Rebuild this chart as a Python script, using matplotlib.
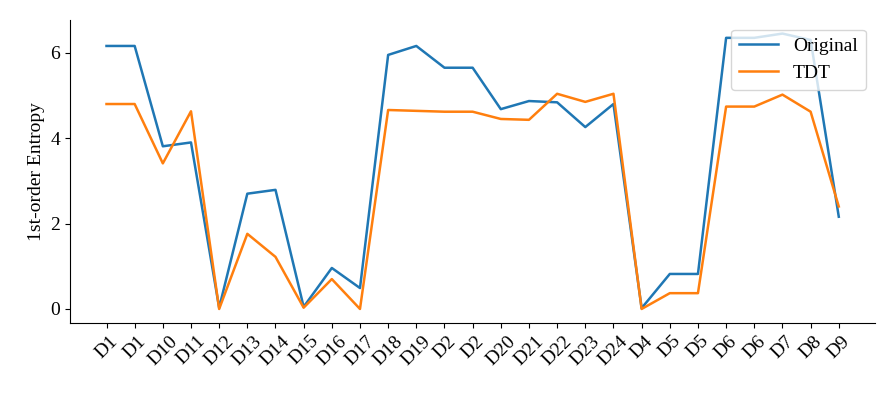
import matplotlib
matplotlib.use('Agg')
import matplotlib.pyplot as plt
from matplotlib.ticker import MultipleLocator

plt.rcParams['font.family'] = ['Liberation Serif', 'DejaVu Serif']
plt.rcParams['font.size'] = 14

labels = ['D1', 'D1', 'D10', 'D11', 'D12', 'D13', 'D14', 'D15', 'D16', 'D17',
          'D18', 'D19', 'D2', 'D2', 'D20', 'D21', 'D22', 'D23', 'D24', 'D4',
          'D5', 'D5', 'D6', 'D6', 'D7', 'D8', 'D9']
original = [6.16, 6.16, 3.81, 3.90, 0.03, 2.70, 2.79, 0.05, 0.96, 0.49,
            5.95, 6.16, 5.65, 5.65, 4.68, 4.87, 4.84, 4.26, 4.80, 0.02,
            0.82, 0.82, 6.35, 6.35, 6.45, 6.30, 2.16]
tdt = [4.80, 4.80, 3.41, 4.63, 0.0, 1.76, 1.22, 0.03, 0.70, 0.0,
       4.66, 4.64, 4.62, 4.62, 4.45, 4.43, 5.04, 4.85, 5.04, 0.0,
       0.37, 0.37, 4.74, 4.74, 5.02, 4.62, 2.40]

fig, ax = plt.subplots(figsize=(8.96, 3.96), dpi=100)
x = range(len(labels))
ax.plot(x, original, label='Original', color='#1f77b4', linewidth=1.8)
ax.plot(x, tdt, label='TDT', color='#ff7f0e', linewidth=1.8)
ax.set_xticks(list(x))
ax.set_xticklabels(labels, rotation=45)
ax.yaxis.set_major_locator(MultipleLocator(2))
ax.set_ylabel('1st-order Entropy')
ax.spines['top'].set_visible(False)
ax.spines['right'].set_visible(False)
ax.legend(loc='upper right')
fig.subplots_adjust(left=0.078, right=0.977, top=0.95, bottom=0.185)
fig.savefig('out.png')
